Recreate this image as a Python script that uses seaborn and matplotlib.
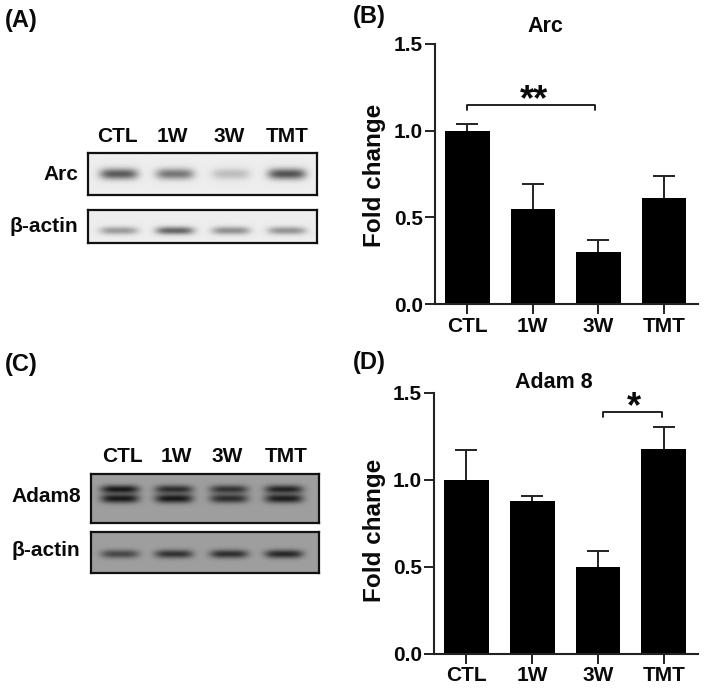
import numpy as np
import pandas as pd
import seaborn as sns
import matplotlib.pyplot as plt

groups = ['CTL', '1W', '3W', 'TMT']

# values
arc_mean = [1.0, 0.55, 0.30, 0.61]
arc_err = [0.04, 0.14, 0.07, 0.13]
adam_mean = [1.0, 0.88, 0.50, 1.175]
adam_err = [0.17, 0.03, 0.09, 0.13]
y_ticks = [0.0, 0.5, 1.0, 1.5]

# band darkness per lane (0 = nothing, 1 = black)
arc_band = [0.62, 0.50, 0.20, 0.65]
arc_actin = [0.35, 0.58, 0.40, 0.38]
adam_top = [0.85, 0.72, 0.68, 0.78]
adam_bottom = [0.85, 0.85, 0.72, 0.82]
adam_actin = [0.55, 0.68, 0.70, 0.75]

W, H = 705, 692
sns.set_theme(style='ticks')
plt.rcParams['font.family'] = ['Liberation Sans', 'DejaVu Sans']
plt.rcParams['font.weight'] = 'bold'
INK = '#222222'

fig = plt.figure(figsize=(W / 100, H / 100), dpi=100)


def px_axes(left, top, right, bottom):
    return fig.add_axes([left / W, 1 - bottom / H, (right - left) / W, (bottom - top) / H])


def label(x, y, s, size=15, ha='center', **kw):
    fig.text(x / W, 1 - y / H, s, fontsize=size, fontweight='bold', ha=ha, va='center', color='#0a0a0a', **kw)


def blot(box, lanes, rows, half_w, bg):
    # rows = list of (band y in px from top, sigma, darkness list)
    left, top, right, bottom = box
    xx, yy = np.meshgrid(np.arange(right - left) + 0.5, np.arange(bottom - top) + 0.5)
    img = np.full(xx.shape, float(bg))
    for band_y, sig, dark in rows:
        for cx, d in zip(lanes, dark):
            shape = np.exp(-((xx - (cx - left)) / half_w) ** 4) * np.exp(-((yy - band_y) / sig) ** 2)
            img = img * (1 - d * shape)
    ax = px_axes(left, top, right, bottom)
    ax.imshow(img, cmap='gray', vmin=0, vmax=1, aspect='auto', interpolation='bilinear')
    ax.set_xticks([])
    ax.set_yticks([])
    for s in ax.spines.values():
        s.set_visible(True)
        s.set_linewidth(1.6)
        s.set_color('#111111')


def bars(box, means, errs, title_xy, title, bracket, star_xy, stars, ylab_y):
    left, top, right, bottom = box
    ax = px_axes(left, top, right, bottom)
    df = pd.DataFrame({'group': groups, 'mean': means})
    sns.barplot(data=df, x='group', y='mean', color='black', saturation=1, width=0.68, linewidth=0, ax=ax, errorbar=None)
    eb = ax.errorbar(range(4), means, yerr=[[0] * 4, errs], fmt='none', ecolor=INK, elinewidth=1.4, capsize=8, capthick=1.4)
    eb[1][0].set_visible(False)  # no cap on the lower side
    ax.set_xlim(-0.486, 3.52)
    ax.set_ylim(0, 1.5)
    ax.set_yticks(y_ticks)
    ax.set_yticklabels(['%.1f' % t for t in y_ticks])
    ax.set_xlabel('')
    ax.set_ylabel('')
    ax.tick_params(axis='both', length=7, width=1.4, color=INK, labelsize=15, pad=2, labelcolor='#0a0a0a')
    for s in ['left', 'bottom']:
        ax.spines[s].set_linewidth(1.5)
        ax.spines[s].set_color(INK)
    sns.despine(ax=ax)
    # significance bracket
    x0, x1, y_hi, y_lo = bracket
    ax.plot([x0, x0, x1, x1], [y_lo, y_hi, y_hi, y_lo], color='#111111', lw=1.3, clip_on=False)
    label(star_xy[0], star_xy[1], stars, size=26)
    label(title_xy[0], title_xy[1], title, size=15.5)
    label(375, ylab_y, 'Fold change', size=17.5, rotation=90)


# panel letters
label(5, 20, '(A)', size=17, ha='left')
label(353, 17, '(B)', size=17, ha='left')
label(5, 364, '(C)', size=17, ha='left')
label(353, 362, '(D)', size=17, ha='left')

# blots, top left
lanes_a = [119, 175, 231, 287]
blot((88, 153, 317, 195), lanes_a, [(21, 5.5, arc_band)], 19, 0.93)
blot((88, 210, 317, 243), lanes_a, [(21, 3.8, arc_actin)], 19, 0.93)
for x, g in zip([117, 172, 229, 287], groups):
    label(x, 137, g)
label(78, 174, 'Arc', ha='right')
label(78, 227, 'β-actin', ha='right')

# blots, bottom left
lanes_c = [120, 174, 229, 284]
blot((91, 474, 319, 523), lanes_c, [(16, 4.0, adam_top), (25, 4.4, adam_bottom)], 19, 0.62)
blot((91, 532, 319, 573), lanes_c, [(22, 4.2, adam_actin)], 19, 0.62)
for x, g in zip([122, 176, 227, 286], groups):
    label(x, 456, g)
label(81, 496, 'Adam8', ha='right')
label(80, 551, 'β-actin', ha='right')

# bar charts
bars((435.5, 43.7, 698, 304.3), arc_mean, arc_err, (545, 27), 'Arc',
     (0, 1.95, 1.147, 1.12), (534, 101), '**', 175)
bars((434.5, 393, 698, 653.7), adam_mean, adam_err, (554, 383), 'Adam 8',
     (2.08, 2.98, 1.39, 1.36), (634, 408), '*', 530)

fig.savefig('out.png', dpi=100)
